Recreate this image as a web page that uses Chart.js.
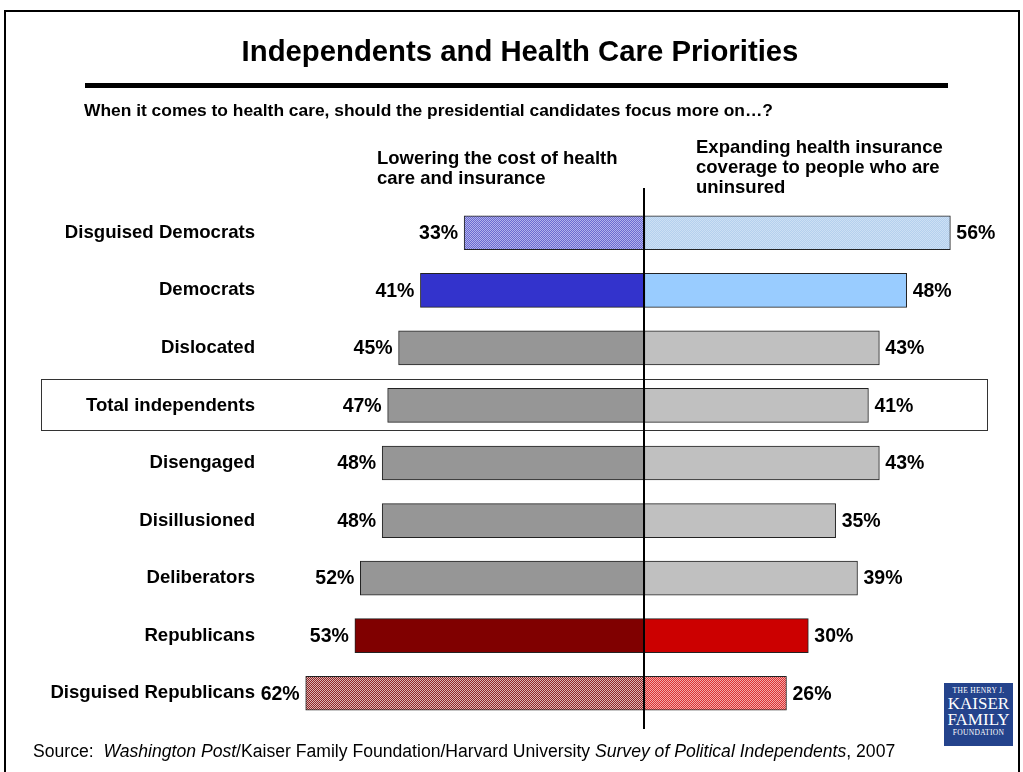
<!DOCTYPE html>
<html>
<head>
<meta charset="utf-8">
<title>Independents and Health Care Priorities</title>
<script src="https://cdn.jsdelivr.net/npm/chart.js@4"></script>
<style>
  body { margin: 0; background: #fff; font-family: Arial, "Liberation Sans", sans-serif; }
  #wrap { position: relative; width: 1023px; height: 772px; overflow: hidden; }
  #frame { position: absolute; left: 4px; top: 10px; width: 1012px; height: 800px; border: 2px solid #000; }
  #chart { position: absolute; left: 0; top: 0; }
  .txt { position: absolute; color: #000; white-space: nowrap; }
  #title { left: 0; width: 1040px; top: 34px; text-align: center; font-size: 29.3px; font-weight: bold; }
  #rule { position: absolute; left: 85px; top: 83px; width: 863px; height: 5px; background: #000; }
  #sub { left: 84px; top: 100px; font-size: 17.4px; font-weight: bold; }
  .head { font-size: 18.5px; font-weight: bold; line-height: 20px; }
  #headL { left: 377px; top: 148px; }
  #headR { left: 696px; top: 137px; }
  #source { left: 33px; top: 741px; font-size: 17.6px; }
  #logo { position: absolute; left: 944px; top: 683px; width: 69px; height: 63px; background: #24438c;
          color: #fff; font-family: "Liberation Serif", "DejaVu Serif", serif; text-align: center; }
  #logo .s { font-size: 7.5px; letter-spacing: 0.3px; line-height: 10px; }
  #logo .b { font-size: 17px; line-height: 16px; }
</style>
</head>
<body>
<div id="wrap">
  <div id="frame"></div>
  <canvas id="chart" width="1023" height="772"></canvas>
  <div class="txt" id="title">Independents and Health Care Priorities</div>
  <div id="rule"></div>
  <div class="txt" id="sub">When it comes to health care, should the presidential candidates focus more on…?</div>
  <div class="txt head" id="headL">Lowering the cost of health<br>care and insurance</div>
  <div class="txt head" id="headR">Expanding health insurance<br>coverage to people who are<br>uninsured</div>
  <div class="txt" id="source">Source:&nbsp; <i>Washington Post</i>/Kaiser Family Foundation/Harvard University <i>Survey of Political Independents</i>, 2007</div>
  <div id="logo">
    <div class="s" style="margin-top:3px">THE HENRY J.</div>
    <div class="b">KAISER</div>
    <div class="b">FAMILY</div>
    <div class="s">FOUNDATION</div>
  </div>
</div>
<script>
const groups = ['Disguised Democrats', 'Democrats', 'Dislocated', 'Total independents', 'Disengaged',
  'Disillusioned', 'Deliberators', 'Republicans', 'Disguised Republicans'];
const lowerCost = [33, 41, 45, 47, 48, 48, 52, 53, 62];
const expandCoverage = [56, 48, 43, 41, 43, 35, 39, 30, 26];

const canvas = document.getElementById('chart');
const ctx = canvas.getContext('2d');

// small checkerboard fill for the "disguised" rows
function checker(a, b) {
  const c = document.createElement('canvas');
  c.width = 2; c.height = 2;
  const g = c.getContext('2d');
  g.fillStyle = a; g.fillRect(0, 0, 2, 2);
  g.fillStyle = b; g.fillRect(0, 0, 1, 1); g.fillRect(1, 1, 1, 1);
  return ctx.createPattern(c, 'repeat');
}

const leftColors = [checker('#6a6ad0', '#b2b2ec'), '#3333cc', '#969696', '#969696', '#969696',
  '#969696', '#969696', '#800000', checker('#902424', '#dcb4b4')];
const rightColors = [checker('#b4d0ee', '#cde0f4'), '#99ccff', '#c0c0c0', '#c0c0c0', '#c0c0c0',
  '#c0c0c0', '#c0c0c0', '#cc0000', checker('#dd3030', '#f2aaaa')];

const labelFont = 'bold 19.5px Arial, "Liberation Sans", sans-serif';

const decorations = {
  id: 'decorations',
  beforeDatasetsDraw(chart) {
    const c = chart.ctx;
    const y = chart.scales.y.getPixelForValue(3);
    c.save();
    c.strokeStyle = '#333';
    c.lineWidth = 1;
    c.strokeRect(41.5, Math.round(y) - 25.5, 946, 51);
    c.restore();
  },
  afterDatasetsDraw(chart) {
    const c = chart.ctx;
    const x0 = Math.round(chart.scales.x.getPixelForValue(0));
    c.save();
    c.strokeStyle = '#000';
    c.lineWidth = 2;
    c.beginPath();
    c.moveTo(x0, 188);
    c.lineTo(x0, 729);
    c.stroke();

    c.fillStyle = '#000';
    c.font = labelFont;
    c.textBaseline = 'middle';
    chart.data.datasets.forEach((ds, i) => {
      chart.getDatasetMeta(i).data.forEach((bar, j) => {
        const v = Math.abs(ds.data[j]) + '%';
        if (i === 0) {
          c.textAlign = 'right';
          c.fillText(v, bar.x - 6, bar.y + 1);
        } else {
          c.textAlign = 'left';
          c.fillText(v, bar.x + 6, bar.y + 1);
        }
      });
    });
    c.restore();
  }
};

new Chart(canvas, {
  type: 'bar',
  data: {
    labels: groups,
    datasets: [{
      label: 'Lowering the cost of health care and insurance',
      data: lowerCost.map(v => -v),
      backgroundColor: leftColors,
      borderColor: '#222',
      borderWidth: 1,
      borderSkipped: false,
      barThickness: 34
    }, {
      label: 'Expanding health insurance coverage to people who are uninsured',
      data: expandCoverage,
      backgroundColor: rightColors,
      borderColor: '#222',
      borderWidth: 1,
      borderSkipped: false,
      barThickness: 34
    }]
  },
  options: {
    indexAxis: 'y',
    responsive: false,
    animation: false,
    layout: { padding: { top: 204, bottom: 50, left: 0, right: 18 } },
    plugins: { legend: { display: false }, tooltip: { enabled: false } },
    scales: {
      x: { stacked: true, min: -70, max: 66, display: false },
      y: {
        stacked: true,
        grid: { display: false, drawTicks: false },
        border: { display: false },
        ticks: { color: '#000', padding: 7, font: { family: 'Arial', size: 18.6, weight: 'bold' } },
        afterFit(scale) { scale.width = 262; }
      }
    }
  },
  plugins: [decorations]
});
</script>
</body>
</html>
